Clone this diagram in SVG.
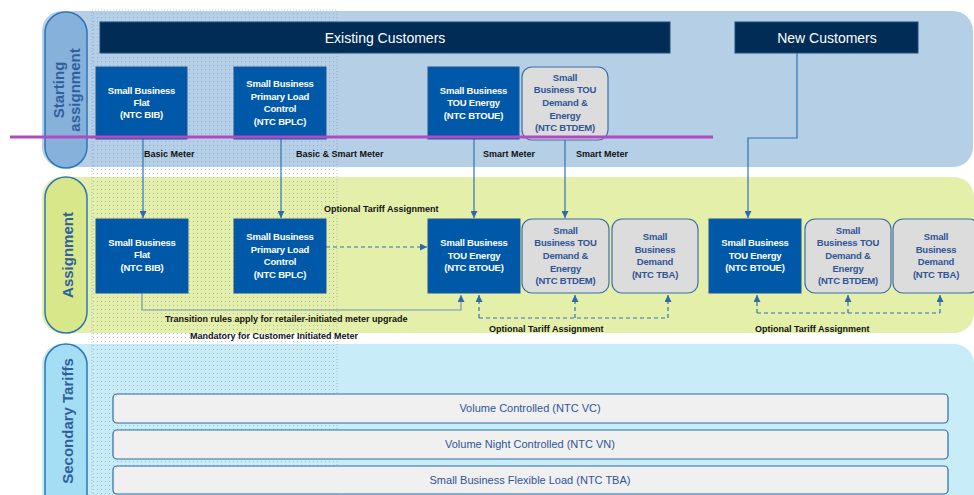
<svg xmlns="http://www.w3.org/2000/svg" width="974" height="495" viewBox="0 0 974 495">
<style>
.pill{stroke:#2e75b6;stroke-width:1.5}
.pt{font-family:"Liberation Sans",Arial,sans-serif;font-weight:bold;font-size:15px;fill:#2f5f9e;text-anchor:middle}
.hdr{fill:#002c56;stroke:#1f4e79;stroke-width:1}
.ht{font-family:"Liberation Sans",Arial,sans-serif;font-size:14px;fill:#fff;text-anchor:middle}
.bn{fill:#0059a8;stroke:#1d5594;stroke-width:1}
.gn{fill:#dcdcdc;stroke:#3d6fa6;stroke-width:1.2}
.nw{font-family:"Liberation Sans",Arial,sans-serif;font-weight:bold;font-size:9.5px;letter-spacing:-0.2px;fill:#fff;text-anchor:middle}
.ng{font-family:"Liberation Sans",Arial,sans-serif;font-weight:bold;font-size:9.5px;letter-spacing:-0.2px;fill:#2f5597;text-anchor:middle}
.lb{font-family:"Liberation Sans",Arial,sans-serif;font-weight:bold;font-size:9px;fill:#111}
.sb{fill:#f0f0f0;stroke:#2e6aa8;stroke-width:1.2}
.st{font-family:"Liberation Sans",Arial,sans-serif;font-size:11px;fill:#2f5597;text-anchor:middle}
.c{fill:none;stroke:#2e75b6;stroke-width:1.2}
.d{fill:none;stroke:#2e75b6;stroke-width:1.2;stroke-dasharray:4,3}
.t{fill:none;stroke:#7592b4;stroke-width:1.2}
</style>
<defs>
<pattern id="dots" width="4" height="4" patternUnits="userSpaceOnUse">
<rect x="1" y="1" width="1" height="1" fill="#6f8fb3" opacity="0.5"/>
</pattern>
<marker id="ah" markerUnits="userSpaceOnUse" markerWidth="7" markerHeight="7" refX="7" refY="3.5" orient="auto">
<path d="M0,0 L7,3.5 L0,7 z" fill="#2e6aa8"/>
</marker>
</defs>
<rect width="974" height="495" fill="#fff"/>
<!-- bands -->
<rect x="42" y="11" width="931" height="156" rx="20" fill="#b4cfe6"/>
<rect x="42" y="177" width="932" height="156" rx="20" fill="#e4efaa"/>
<rect x="42" y="344" width="932" height="170" rx="20" fill="#c8ecf8"/>
<!-- dotted overlay -->
<rect x="92" y="10" width="245" height="490" fill="url(#dots)" stroke="#6f8fb3" stroke-width="0.8" stroke-dasharray="1,2" stroke-opacity="0.6"/>
<!-- pills -->
<g id="pill-start">
<rect class="pill" x="45" y="12" width="42" height="156" rx="21" fill="#86b1da"/>
<text class="pt" transform="translate(64,90) rotate(-90)">Starting</text>
<text class="pt" transform="translate(80,90) rotate(-90)">assignment</text>
</g>
<g id="pill-assign">
<rect class="pill" x="45" y="177" width="42" height="156" rx="21" fill="#d8e78a"/>
<text class="pt" transform="translate(73,255) rotate(-90)">Assignment</text>
</g>
<g id="pill-secondary">
<rect class="pill" x="45" y="344" width="42" height="170" rx="21" fill="#a4def4"/>
<text class="pt" transform="translate(73,421) rotate(-90)">Secondary Tariffs</text>
</g>
<!-- headers -->
<g id="hdr-existing">
<rect class="hdr" x="100" y="22" width="570" height="31"/>
<text class="ht" x="385" y="43">Existing Customers</text>
</g>
<g id="hdr-new">
<rect class="hdr" x="735" y="22" width="183" height="31"/>
<text class="ht" x="827" y="43">New Customers</text>
</g>
<!-- connectors -->
<g id="connectors">
<path class="c" d="M143,139 V218" marker-end="url(#ah)"/>
<path class="c" d="M281,139 V218" marker-end="url(#ah)"/>
<path class="c" d="M474,139 V218" marker-end="url(#ah)"/>
<path class="c" d="M565,140 V218" marker-end="url(#ah)"/>
<path class="c" d="M797,53 V138 H748 V218" marker-end="url(#ah)"/>
<path class="d" d="M326,247 H427" marker-end="url(#ah)"/>
<path class="t" d="M142,293 V310 H461 V295" marker-end="url(#ah)"/>
<path class="d" d="M479,318 H668"/>
<path class="d" d="M479,318 V295" marker-end="url(#ah)"/>
<path class="d" d="M575,318 V295" marker-end="url(#ah)"/>
<path class="d" d="M668,318 V295" marker-end="url(#ah)"/>
<path class="d" d="M757,313 H940"/>
<path class="d" d="M757,313 V295" marker-end="url(#ah)"/>
<path class="d" d="M848,313 V295" marker-end="url(#ah)"/>
<path class="d" d="M940,313 V295" marker-end="url(#ah)"/>
<text class="lb" x="144" y="157">Basic Meter</text>
<text class="lb" x="296" y="157">Basic &amp; Smart Meter</text>
<text class="lb" x="483" y="157">Smart Meter</text>
<text class="lb" x="576" y="157">Smart Meter</text>
<text class="lb" x="324" y="212">Optional Tariff Assignment</text>
<text class="lb" x="165" y="322">Transition rules apply for retailer-initiated meter upgrade</text>
<text class="lb" x="190" y="339">Mandatory for Customer Initiated Meter</text>
<text class="lb" x="489" y="332">Optional Tariff Assignment</text>
<text class="lb" x="755" y="332">Optional Tariff Assignment</text>
</g>
<!-- starting nodes -->
<g id="s-bib">
<rect class="bn" x="96" y="67" width="91" height="72"/>
<text class="nw" x="141.5" y="94">Small Business</text>
<text class="nw" x="141.5" y="106">Flat</text>
<text class="nw" x="141.5" y="118">(NTC BIB)</text>
</g>
<g id="s-bplc">
<rect class="bn" x="234" y="67" width="92" height="72"/>
<text class="nw" x="280" y="87">Small Business</text>
<text class="nw" x="280" y="100">Primary Load</text>
<text class="nw" x="280" y="112">Control</text>
<text class="nw" x="280" y="125">(NTC BPLC)</text>
</g>
<g id="s-btoue">
<rect class="bn" x="428" y="67" width="91" height="72"/>
<text class="nw" x="473.5" y="94">Small Business</text>
<text class="nw" x="473.5" y="106">TOU Energy</text>
<text class="nw" x="473.5" y="119">(NTC BTOUE)</text>
</g>
<g id="s-btdem">
<rect class="gn" x="522" y="67" width="86" height="73" rx="10"/>
<text class="ng" x="565" y="81">Small</text>
<text class="ng" x="565" y="93">Business TOU</text>
<text class="ng" x="565" y="106">Demand &amp;</text>
<text class="ng" x="565" y="119">Energy</text>
<text class="ng" x="565" y="131">(NTC BTDEM)</text>
</g>
<!-- assignment nodes -->
<g id="a-bib">
<rect class="bn" x="96" y="219" width="92" height="74"/>
<text class="nw" x="142" y="246">Small Business</text>
<text class="nw" x="142" y="258">Flat</text>
<text class="nw" x="142" y="271">(NTC BIB)</text>
</g>
<g id="a-bplc">
<rect class="bn" x="234" y="219" width="92" height="74"/>
<text class="nw" x="280" y="240">Small Business</text>
<text class="nw" x="280" y="253">Primary Load</text>
<text class="nw" x="280" y="265">Control</text>
<text class="nw" x="280" y="278">(NTC BPLC)</text>
</g>
<g id="a-btoue">
<rect class="bn" x="428" y="219" width="92" height="74"/>
<text class="nw" x="474" y="246">Small Business</text>
<text class="nw" x="474" y="259">TOU Energy</text>
<text class="nw" x="474" y="271">(NTC BTOUE)</text>
</g>
<g id="a-btdem">
<rect class="gn" x="522" y="219" width="87" height="74" rx="10"/>
<text class="ng" x="565.5" y="234">Small</text>
<text class="ng" x="565.5" y="246">Business TOU</text>
<text class="ng" x="565.5" y="259">Demand &amp;</text>
<text class="ng" x="565.5" y="272">Energy</text>
<text class="ng" x="565.5" y="284">(NTC BTDEM)</text>
</g>
<g id="a-tba">
<rect class="gn" x="612" y="219" width="86" height="74" rx="10"/>
<text class="ng" x="655" y="240">Small</text>
<text class="ng" x="655" y="253">Business</text>
<text class="ng" x="655" y="265">Demand</text>
<text class="ng" x="655" y="278">(NTC TBA)</text>
</g>
<g id="n-btoue">
<rect class="bn" x="709" y="219" width="92" height="74"/>
<text class="nw" x="755" y="246">Small Business</text>
<text class="nw" x="755" y="259">TOU Energy</text>
<text class="nw" x="755" y="271">(NTC BTOUE)</text>
</g>
<g id="n-btdem">
<rect class="gn" x="805" y="219" width="86" height="74" rx="10"/>
<text class="ng" x="848" y="234">Small</text>
<text class="ng" x="848" y="246">Business TOU</text>
<text class="ng" x="848" y="259">Demand &amp;</text>
<text class="ng" x="848" y="272">Energy</text>
<text class="ng" x="848" y="284">(NTC BTDEM)</text>
</g>
<g id="n-tba">
<rect class="gn" x="893" y="219" width="86" height="74" rx="10"/>
<text class="ng" x="936" y="240">Small</text>
<text class="ng" x="936" y="253">Business</text>
<text class="ng" x="936" y="265">Demand</text>
<text class="ng" x="936" y="278">(NTC TBA)</text>
</g>
<!-- secondary tariffs -->
<g id="sec-vc">
<rect class="sb" x="113" y="394" width="835" height="29" rx="4"/>
<text class="st" x="530" y="412">Volume Controlled (NTC VC)</text>
</g>
<g id="sec-vn">
<rect class="sb" x="113" y="430" width="835" height="29" rx="4"/>
<text class="st" x="530" y="448">Volume Night Controlled (NTC VN)</text>
</g>
<g id="sec-tba">
<rect class="sb" x="113" y="466" width="835" height="28" rx="4"/>
<text class="st" x="530" y="484">Small Business Flexible Load (NTC TBA)</text>
</g>
<!-- purple line -->
<path d="M10,137 H713" stroke="#b248c4" stroke-width="3" fill="none"/>
</svg>
